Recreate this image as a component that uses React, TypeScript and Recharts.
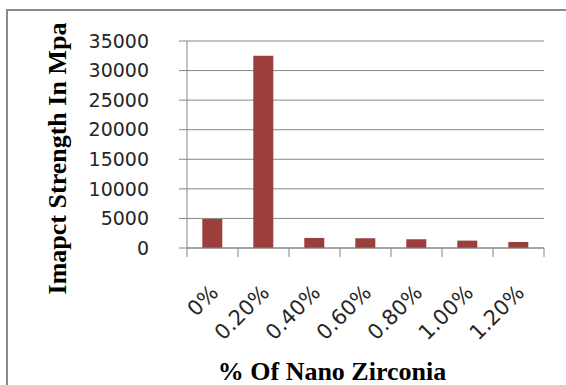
import React from "react";
import { BarChart, Bar, XAxis, YAxis, CartesianGrid } from "recharts";

const categories = ["0%", "0.20%", "0.40%", "0.60%", "0.80%", "1.00%", "1.20%"];
const impactValues = [4900, 32500, 1700, 1650, 1480, 1250, 1020];
const yTicks = [0, 5000, 10000, 15000, 20000, 25000, 30000, 35000];

const data = categories.map((c, i) => ({ name: c, value: impactValues[i] }));

const W = 566;
const H = 385;
const PLOT_LEFT = 187;
const PLOT_RIGHT = 544;
const PLOT_TOP = 41;
const PLOT_BOTTOM = 248;
const STEP = (PLOT_RIGHT - PLOT_LEFT) / categories.length;
const GRAY = "#878787";
const TICK_FONT = "'DejaVu Sans', sans-serif";
const TITLE_FONT = "'Liberation Serif', 'Times New Roman', serif";

const XTick = (props: any) => {
  const { x, y, payload, index } = props;
  const ax = x + 7;
  const ay = y + 46;
  const left = x - STEP / 2;
  return (
    <g>
      <line x1={left} y1={y} x2={left} y2={y + 9} stroke={GRAY} strokeWidth={1} />
      {index === categories.length - 1 && (
        <line x1={x + STEP / 2} y1={y} x2={x + STEP / 2} y2={y + 9} stroke={GRAY} strokeWidth={1} />
      )}
      <text
        x={ax}
        y={ay}
        textAnchor="end"
        transform={`rotate(-45, ${ax}, ${ay})`}
        fontFamily={TICK_FONT}
        fontSize={21}
        fill="#262626"
      >
        {payload.value}
      </text>
    </g>
  );
};

export default function App() {
  return (
    <div style={{ position: "absolute", left: 0, top: 0, width: W, height: H, overflow: "hidden", background: "#fff" }}>
      <div
        style={{
          position: "absolute",
          left: 6,
          top: 9,
          width: 640,
          height: 420,
          border: "2px solid #8a8a8a",
          boxSizing: "border-box",
        }}
      />
      <div style={{ position: "absolute", left: 0, top: 0 }}>
        <BarChart
          width={W}
          height={H}
          data={data}
          margin={{ top: PLOT_TOP, right: W - PLOT_RIGHT, left: 0, bottom: 0 }}
          barCategoryGap="30%"
        >
          <CartesianGrid vertical={false} stroke={GRAY} strokeWidth={1} />
          <XAxis
            dataKey="name"
            height={H - PLOT_BOTTOM}
            tickLine={false}
            tickSize={0}
            tickMargin={0}
            axisLine={{ stroke: GRAY }}
            interval={0}
            tick={<XTick />}
          />
          <YAxis
            width={PLOT_LEFT}
            domain={[0, 35000]}
            ticks={yTicks}
            interval={0}
            tickSize={8}
            tickMargin={30}
            axisLine={{ stroke: GRAY }}
            tickLine={{ stroke: GRAY }}
            tick={{ fontFamily: TICK_FONT, fontSize: 19, fill: "#262626" }}
          />
          <Bar dataKey="value" fill="#9C3E3B" isAnimationActive={false} />
          <text
            x={66}
            y={158.5}
            transform="rotate(-90, 66, 158.5)"
            textAnchor="middle"
            fontFamily={TITLE_FONT}
            fontWeight="bold"
            fontSize={26}
            fill="#000"
          >
            Imapct Strength In Mpa
          </text>
          <text
            x={332}
            y={380}
            textAnchor="middle"
            fontFamily={TITLE_FONT}
            fontWeight="bold"
            fontSize={26}
            fill="#000"
          >
            % Of Nano Zirconia
          </text>
        </BarChart>
      </div>
    </div>
  );
}
